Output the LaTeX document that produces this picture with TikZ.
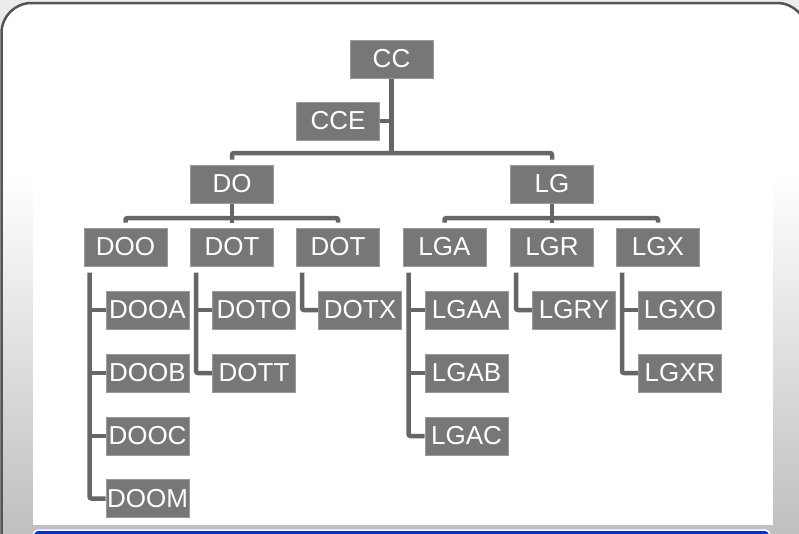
\documentclass[tikz,border=0pt]{standalone}
\usepackage{fontspec}
\setmainfont{Liberation Sans}
\usetikzlibrary{calc}
\definecolor{BoxClr}{HTML}{777777}
\definecolor{BoxLine}{HTML}{9A9A9A}
\definecolor{LinkClr}{HTML}{666666}
\definecolor{FrameClr}{HTML}{555555}
\definecolor{BarClr}{HTML}{0A2EC8}

\tikzset{
  box/.style={fill=BoxClr,draw=BoxLine,line width=1pt,text=white,
    minimum width=83pt,minimum height=38pt,inner sep=0pt,
    font=\fontsize{26}{28}\selectfont},
  link/.style={line width=4.5pt,draw=LinkClr,rounded corners=2pt}
}

\begin{document}
\begin{tikzpicture}[x=1pt,y=-1pt]
\useasboundingbox (0,0) rectangle (799,533);

% slide background
\fill[top color=gray!15,bottom color=gray!45] (0,0) rectangle (799,533);
\fill[white,rounded corners=30pt] (1.5,3) rectangle (807,580);
\begin{scope}
\clip[rounded corners=30pt] (1.5,3) rectangle (807,580);
\shade[top color=white,bottom color=gray!50] (0,175) rectangle (799,533);
\end{scope}
\fill[white] (33,173) rectangle (773,525);
\draw[FrameClr,line width=2.5pt,rounded corners=30pt] (1.5,3) rectangle (807,580);
\filldraw[fill=BarClr,draw=white,line width=1.5pt,rounded corners=6pt] (33,530) rectangle (770,570);

% boxes
\node[box] (CC) at (391.5,59) {CC};
\node[box] (CCE) at (338,121) {CCE};

\node[box] (DO) at (232,184) {DO};
\node[box] (LG) at (552,184) {LG};

\node[box] (DOO) at (125.5,247) {DOO};
\node[box] (DOTa) at (232,247) {DOT};
\node[box] (DOTb) at (338,247) {DOT};
\node[box] (LGA) at (444.5,247) {LGA};
\node[box] (LGR) at (552,247) {LGR};
\node[box] (LGX) at (658,247) {LGX};

\node[box] (DOOA) at (147.5,310) {DOOA};
\node[box] (DOOB) at (147.5,373) {DOOB};
\node[box] (DOOC) at (147.5,436) {DOOC};
\node[box] (DOOM) at (147.5,498.5) {DOOM};
\node[box] (DOTO) at (254,310) {DOTO};
\node[box] (DOTT) at (254,373) {DOTT};
\node[box] (DOTX) at (360,310) {DOTX};
\node[box] (LGAA) at (466.5,310) {LGAA};
\node[box] (LGAB) at (466.5,373) {LGAB};
\node[box] (LGAC) at (466.5,436) {LGAC};
\node[box] (LGRY) at (574,310) {LGRY};
\node[box] (LGXO) at (680,310) {LGXO};
\node[box] (LGXR) at (680,373) {LGXR};

% top links
\coordinate (ccbar) at (391.5,153);
\draw[link] (CC.south) -- (ccbar);
\draw[link] (CCE.east) -- (CCE.east -| ccbar);
\draw[link,shorten <=5pt,shorten >=5pt] (DO.north) |- (ccbar) -| (LG.north);

% second level links
\coordinate (dobar) at (232,218);
\coordinate (lgbar) at (552,218);
\draw[link,shorten >=5pt] (DO.south) -- (DOTa.north);
\draw[link,shorten <=5pt,shorten >=5pt] (DOO.north) |- (dobar) -| (DOTb.north);
\draw[link,shorten >=5pt] (LG.south) -- (LGR.north);
\draw[link,shorten <=5pt,shorten >=5pt] (LGA.north) |- (lgbar) -| (LGX.north);

% spines
\coordinate (dooS) at ([xshift=6pt]DOO.south west);
\coordinate (dotaS) at ([xshift=6pt]DOTa.south west);
\coordinate (dotbS) at ([xshift=6pt]DOTb.south west);
\coordinate (lgaS) at ([xshift=6pt]LGA.south west);
\coordinate (lgrS) at ([xshift=6pt]LGR.south west);
\coordinate (lgxS) at ([xshift=6pt]LGX.south west);

\draw[link,shorten <=6pt] (dooS) |- (DOOM.west);
\draw[link] (DOOA.west) -- (DOOA.west -| dooS);
\draw[link] (DOOB.west) -- (DOOB.west -| dooS);
\draw[link] (DOOC.west) -- (DOOC.west -| dooS);

\draw[link,shorten <=6pt] (dotaS) |- (DOTT.west);
\draw[link] (DOTO.west) -- (DOTO.west -| dotaS);

\draw[link,shorten <=6pt] (dotbS) |- (DOTX.west);

\draw[link,shorten <=6pt] (lgaS) |- (LGAC.west);
\draw[link] (LGAA.west) -- (LGAA.west -| lgaS);
\draw[link] (LGAB.west) -- (LGAB.west -| lgaS);

\draw[link,shorten <=6pt] (lgrS) |- (LGRY.west);

\draw[link,shorten <=6pt] (lgxS) |- (LGXR.west);
\draw[link] (LGXO.west) -- (LGXO.west -| lgxS);

\end{tikzpicture}
\end{document}
